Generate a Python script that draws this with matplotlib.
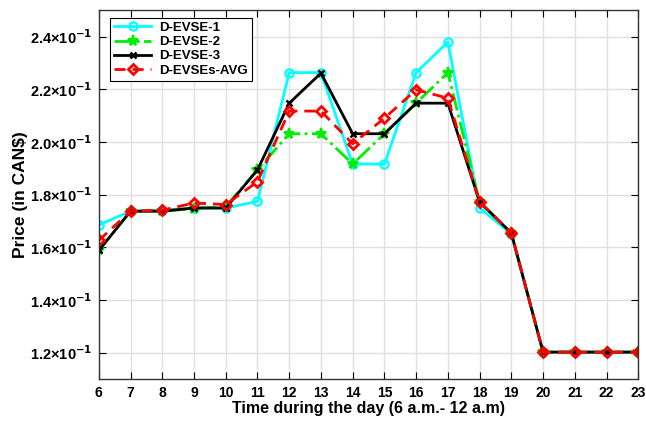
import matplotlib
matplotlib.use('Agg')
import matplotlib.pyplot as plt
from matplotlib.ticker import FuncFormatter

plt.rcParams['font.family'] = ['Liberation Sans', 'DejaVu Sans']
plt.rcParams['font.weight'] = 'bold'
plt.rcParams['mathtext.default'] = 'bf'

#### Data ####
hours = [6, 7, 8, 9, 10, 11, 12, 13, 14, 15, 16, 17, 18, 19, 20, 21, 22, 23]
evse1 = [0.1685, 0.1737, 0.1741, 0.1749, 0.1749, 0.1774, 0.2263, 0.2263, 0.1916,
         0.1916, 0.2263, 0.2379, 0.1749, 0.1651, 0.1202, 0.1202, 0.1202, 0.1202]
evse2 = [0.1588, 0.1737, 0.1737, 0.1747, 0.1755, 0.1894, 0.2031, 0.2031, 0.1916,
         0.2031, 0.2147, 0.2263, 0.1772, 0.1655, 0.1202, 0.1202, 0.1202, 0.1202]
evse3 = [0.1588, 0.1737, 0.1737, 0.1749, 0.1749, 0.1894, 0.2147, 0.2261, 0.2031,
         0.2031, 0.2147, 0.2147, 0.1772, 0.1654, 0.1202, 0.1202, 0.1202, 0.1202]
evse_avg = [0.1626, 0.1737, 0.1741, 0.1768, 0.1762, 0.1849, 0.2117, 0.2117, 0.1993,
            0.2090, 0.2198, 0.2166, 0.1772, 0.1655, 0.1202, 0.1202, 0.1202, 0.1202]
y_ticks = [0.12, 0.14, 0.16, 0.18, 0.20, 0.22, 0.24]


def sci_label(v, pos):
    return '{:.1f}×10$^{{-1}}$'.format(v * 10)


fig = plt.figure(figsize=(6.46, 4.21), dpi=100)
ax = fig.add_axes([0.153, 0.0998, 0.835, 0.876])

ax.plot(hours, evse1, color='cyan', linestyle='-', linewidth=2, marker='o',
        markersize=6, markerfacecolor='none', markeredgewidth=1.6, label='D-EVSE-1')
ax.plot(hours, evse2, color='#00ee00', linestyle='-.', linewidth=2, marker='*',
        markersize=8, markeredgewidth=1.5, label='D-EVSE-2')
ax.plot(hours, evse3, color='black', linestyle='-', linewidth=2, marker='x',
        markersize=4.5, markeredgewidth=1.8, label='D-EVSE-3')
ax.plot(hours, evse_avg, color='red', linestyle=(0, (4, 2.5)), linewidth=2, marker='D',
        markersize=5.5, markerfacecolor='none', markeredgewidth=2, label='D-EVSEs-AVG')

ax.set_xlim(6, 23)
ax.set_ylim(0.11, 0.25)
ax.set_xticks(hours)
ax.set_yticks(y_ticks)
ax.yaxis.set_major_formatter(FuncFormatter(sci_label))
ax.tick_params(direction='in', top=True, right=True, length=5, width=0.8)
ax.tick_params(axis='x', labelsize=10, pad=5)
ax.tick_params(axis='y', labelsize=10.5, pad=5)
ax.grid(True, color='#e0e0e0', linewidth=1)
ax.set_axisbelow(True)
for s in ax.spines.values():
    s.set_linewidth(1)
    s.set_color('#333333')

ax.set_xlabel('Time during the day (6 a.m.- 12 a.m)', fontsize=11.5, fontweight='bold', labelpad=1)
ax.set_ylabel('Price (in CAN$)', fontsize=12.5, fontweight='bold', labelpad=1)

leg = ax.legend(loc='upper left', fontsize=9.5, fancybox=False, framealpha=1,
                edgecolor='black', handlelength=2.8, borderpad=0.3, labelspacing=0.15,
                handletextpad=0.6, borderaxespad=0.3, bbox_to_anchor=(0.014, 0.99))
leg.get_frame().set_linewidth(0.8)

fig.savefig('out.png', dpi=100)
